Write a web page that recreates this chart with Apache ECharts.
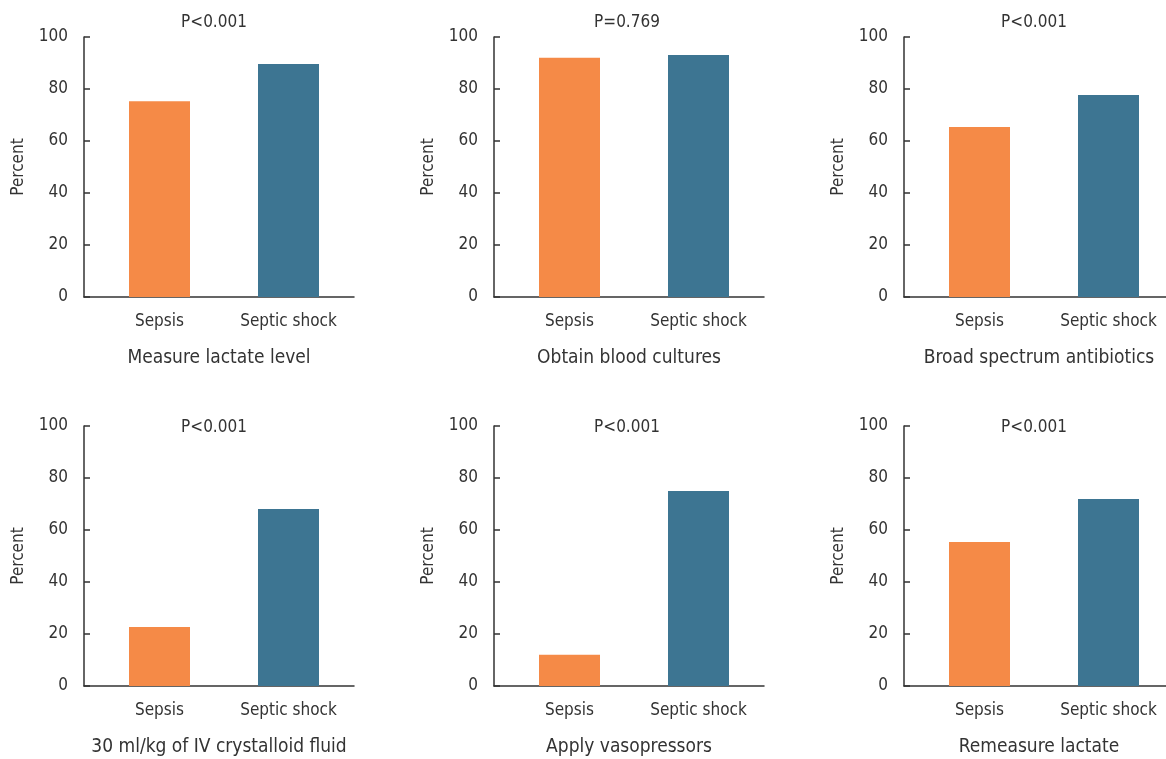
<!DOCTYPE html>
<html>
<head>
<meta charset="utf-8">
<script src="https://cdn.jsdelivr.net/npm/echarts@6/dist/echarts.min.js"></script>
<style>
html,body{margin:0;padding:0;background:#fff;overflow:hidden;width:1166px;height:759px;}
#chart{width:1190px;height:759px;}
</style>
</head>
<body>
<div id="chart"></div>
<script>
const categories = ['Sepsis', 'Septic shock'];
const panelTitles = ['Measure lactate level', 'Obtain blood cultures', 'Broad spectrum antibiotics',
  '30 ml/kg of IV crystalloid fluid', 'Apply vasopressors', 'Remeasure lactate'];
const pLabels = ['P<0.001', 'P=0.769', 'P<0.001', 'P<0.001', 'P<0.001', 'P<0.001'];
const sepsisValues = [75.3, 92, 65.4, 22.7, 12, 55.4];
const septicShockValues = [89.6, 93.1, 77.7, 68.1, 75, 71.9];
const yMin = 0, yMax = 100, yInterval = 20;
const yAxisName = 'Percent';

const colors = ['#F58A47', '#3D7592'];
const textColor = '#333';
const fontFamily = '"DejaVu Sans Condensed", "Noto Sans CJK KR", sans-serif';

const colX = [84, 494, 904];
const rowTop = [37, 426];
const plotW = 270, plotH = 260;
const pTop = [9, 414];
const pShift = [-10, -7, -10];

const grid = [], xAxis = [], yAxis = [], series = [], title = [];
panelTitles.forEach((name, i) => {
  const c = i % 3, r = Math.floor(i / 3);
  const left = colX[c], top = rowTop[r];
  // frame grid
  grid.push({left: left, top: top, width: plotW, height: plotH});
  const fg = grid.length - 1;
  xAxis.push({
    type: 'value', gridIndex: fg, min: 0, max: 1,
    axisLine: {show: true, onZero: false, lineStyle: {color: textColor, width: 1.5}},
    axisTick: {show: false}, axisLabel: {show: false}, splitLine: {show: false},
    name: name, nameLocation: 'middle', nameGap: 52,
    nameTextStyle: {color: textColor, fontSize: 19, fontFamily: fontFamily}
  });
  yAxis.push({
    type: 'value', gridIndex: fg, min: yMin, max: yMax, interval: yInterval,
    axisLine: {show: true, lineStyle: {color: textColor, width: 1.5}},
    axisTick: {show: true, inside: true, length: 6, lineStyle: {color: textColor, width: 1.5}},
    axisLabel: {color: textColor, fontSize: 17, margin: 16, fontFamily: fontFamily},
    splitLine: {show: false},
    name: yAxisName, nameLocation: 'middle', nameGap: 57,
    nameTextStyle: {color: textColor, fontSize: 17, fontFamily: fontFamily}
  });
  // bar grid
  grid.push({left: left + 11, top: top, width: 258, height: plotH});
  const bg = grid.length - 1;
  xAxis.push({
    type: 'category', gridIndex: bg, data: categories,
    axisLine: {show: false}, axisTick: {show: false},
    axisLabel: {color: textColor, fontSize: 17, margin: 16, interval: 0, fontFamily: fontFamily}
  });
  yAxis.push({type: 'value', gridIndex: bg, min: yMin, max: yMax, show: false});
  series.push({
    type: 'bar', xAxisIndex: bg, yAxisIndex: bg, barWidth: 61,
    data: [sepsisValues[i], septicShockValues[i]].map((v, k) => ({value: v, itemStyle: {color: colors[k]}})),
    animation: false
  });
  title.push({
    text: pLabels[i], left: left + plotW / 2 + pShift[c], top: pTop[r], textAlign: 'center',
    textStyle: {color: textColor, fontSize: 17, fontWeight: 'normal', fontFamily: fontFamily}
  });
});

const chart = echarts.init(document.getElementById('chart'), null, {renderer: 'canvas'});
chart.setOption({backgroundColor: '#fff', animation: false, title, grid, xAxis, yAxis, series});
</script>
</body>
</html>
